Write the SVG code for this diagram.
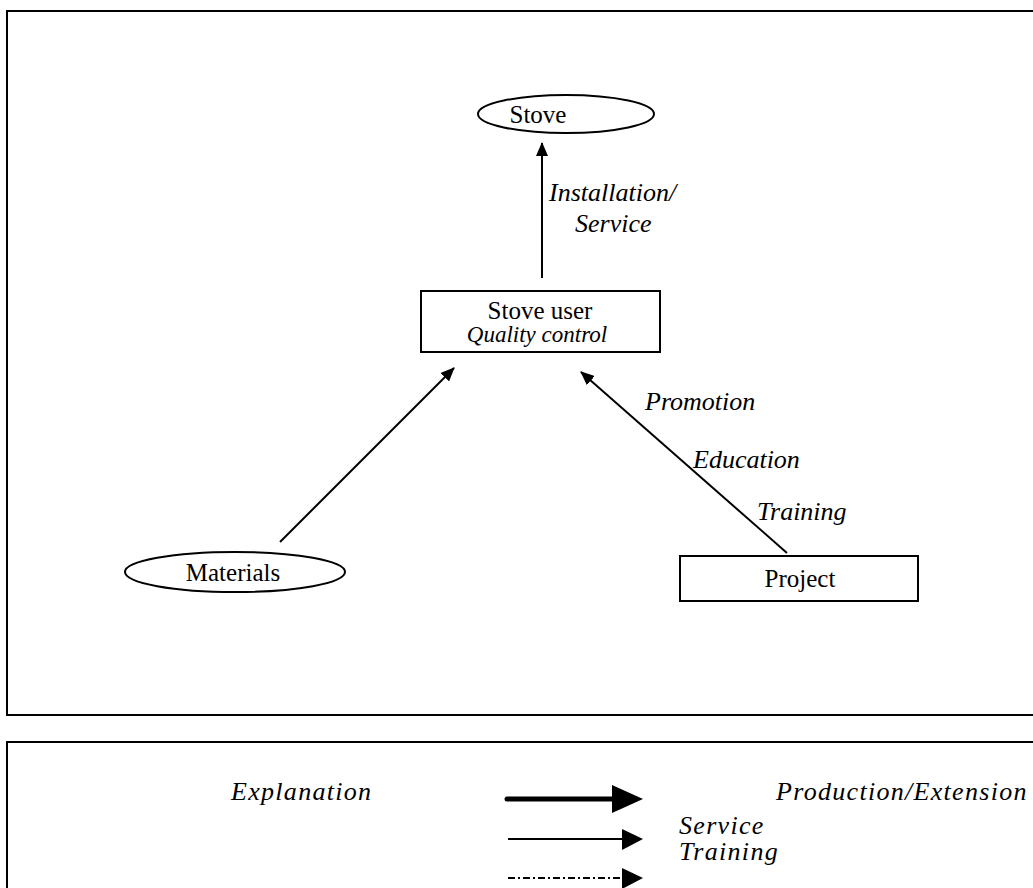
<svg xmlns="http://www.w3.org/2000/svg" width="1033" height="888" viewBox="0 0 1033 888">
<style>
.frame{fill:none;stroke:#000;stroke-width:2}
.node{fill:#fff;stroke:#000;stroke-width:2}
.t{font-family:"Liberation Serif","Times New Roman",serif;font-size:25px;fill:#000}
.i{font-family:"Liberation Serif","Times New Roman",serif;font-size:26px;font-style:italic;fill:#000}
.lg{font-family:"Liberation Serif","Times New Roman",serif;font-size:26px;font-style:italic;fill:#000;letter-spacing:1.3px}
.c{stroke:#000;stroke-width:2;fill:none}
</style>
<defs>
<marker id="ah" markerWidth="14" markerHeight="12" refX="13" refY="6" orient="auto" markerUnits="userSpaceOnUse">
<path d="M0,0 L14,6 L0,12 Z" fill="#000"/>
</marker>
</defs>
<rect class="frame" x="7" y="11" width="1040" height="704"/>
<rect class="frame" x="7" y="742" width="1040" height="160"/>
<g id="connectors">
<line class="c" x1="542" y1="278" x2="542" y2="143" marker-end="url(#ah)"/>
<line class="c" x1="280" y1="542" x2="454" y2="368" marker-end="url(#ah)"/>
<line class="c" x1="787" y1="553" x2="581" y2="372" marker-end="url(#ah)"/>
</g>
<g id="labels">
<text class="i" x="549" y="201">Installation/</text>
<text class="i" x="575" y="232">Service</text>
<text class="i" x="645" y="410">Promotion</text>
<text class="i" x="693" y="468">Education</text>
<text class="i" x="757" y="520">Training</text>
</g>
<g id="stove">
<ellipse class="node" cx="566" cy="114" rx="88" ry="19"/>
<text class="t" x="538" y="123" text-anchor="middle">Stove</text>
</g>
<g id="stove-user">
<rect class="node" x="421" y="291" width="239" height="61"/>
<text class="t" x="540" y="319" text-anchor="middle">Stove user</text>
<text class="i" x="537" y="342" text-anchor="middle" style="font-size:23px">Quality control</text>
</g>
<g id="materials">
<ellipse class="node" cx="235" cy="572" rx="110" ry="20"/>
<text class="t" x="233" y="581" text-anchor="middle">Materials</text>
</g>
<g id="project">
<rect class="node" x="680" y="556" width="238" height="45"/>
<text class="t" x="800" y="587" text-anchor="middle">Project</text>
</g>
<g id="legend">
<text class="lg" x="231" y="800">Explanation</text>
<line x1="507" y1="799" x2="614" y2="799" stroke="#000" stroke-width="5" stroke-linecap="round"/>
<path d="M612,785 L643,799 L612,813 Z" fill="#000"/>
<text class="lg" x="776" y="800">Production/Extension</text>
<line x1="508" y1="839" x2="623" y2="839" stroke="#000" stroke-width="2"/>
<path d="M622,829 L643,839 L622,850 Z" fill="#000"/>
<text class="lg" x="679" y="834">Service</text>
<text class="lg" x="679" y="860">Training</text>
<line x1="508" y1="878" x2="623" y2="878" stroke="#000" stroke-width="2" stroke-dasharray="7 3 2 3"/>
<path d="M622,868 L643,878 L622,889 Z" fill="#000"/>
</g>
</svg>
